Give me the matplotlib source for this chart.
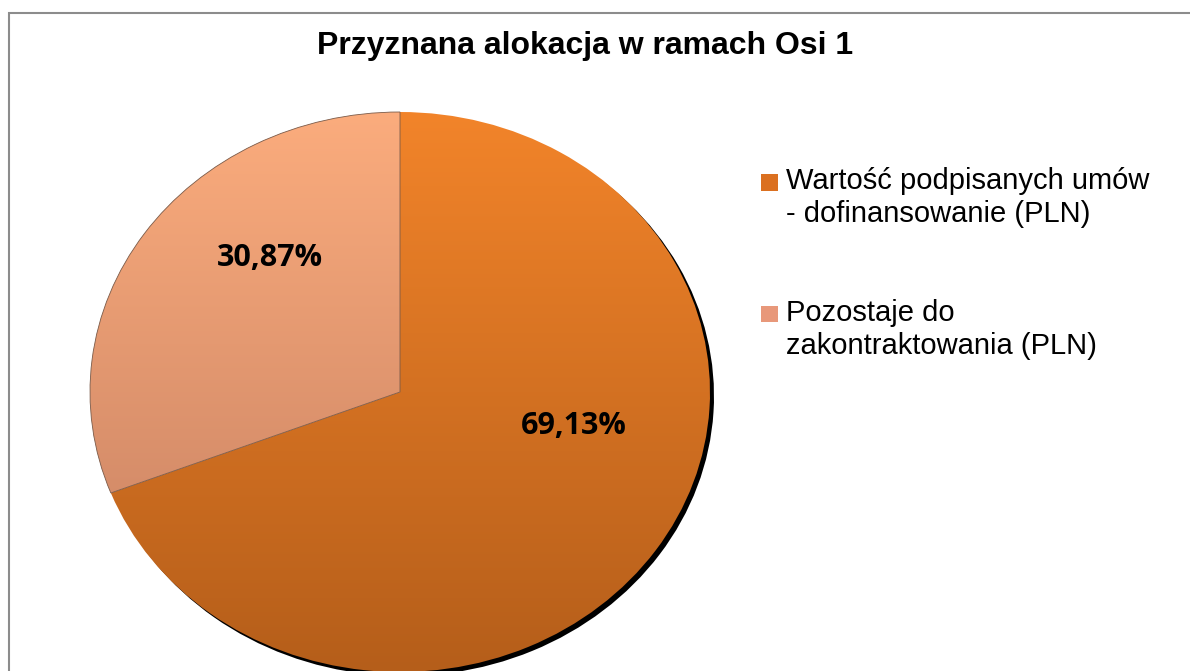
import numpy as np
import matplotlib
matplotlib.use("Agg")
import matplotlib.pyplot as plt
from matplotlib.colors import LinearSegmentedColormap
from matplotlib.patches import Rectangle
from matplotlib.legend_handler import HandlerPatch
import matplotlib.transforms as mtransforms

title = "Przyznana alokacja w ramach Osi 1"
labels = ["Wartość podpisanych umów\n- dofinansowanie (PLN)",
          "Pozostaje do\nzakontraktowania (PLN)"]
shares = [69.13, 30.87]
top_colors = ["#F2842A", "#FBAC7D"]
bottom_colors = ["#B55E1A", "#C47E60"]
label_pos = [(0.56, -0.12), (-0.42, 0.48)]


class TopSquare(HandlerPatch):
    # legend square aligned with the first line of a two-line label
    def create_artists(self, legend, orig_handle, xdescent, ydescent,
                       width, height, fontsize, trans):
        p = Rectangle((-xdescent, -ydescent + 0.55 * fontsize), width, height,
                      facecolor=orig_handle.get_facecolor(), linewidth=0)
        p.set_transform(trans)
        return [p]


W, H = 1190, 671
fig = plt.figure(figsize=(W / 100, H / 100), dpi=100)
fig.patch.set_facecolor("white")

# outer chart frame (cut off at right and bottom)
fig.add_artist(Rectangle((9 / W, -0.05), 1.2, (H - 13) / H + 0.05, transform=fig.transFigure,
                         fill=False, edgecolor="#8c8c8c", linewidth=1.5))

fig.text(585 / W, 1 - 46 / H, title, ha="center", va="center", fontsize=23,
         fontweight="bold", family="Liberation Sans")

# pie axes: centre (400, 392) px, radius 310 px horizontally, 280 px vertically
sx, sy, lim = 310, 280, 1.1
ax = fig.add_axes([(400 - lim * sx) / W, (H - 392 - lim * sy) / H,
                   2 * lim * sx / W, 2 * lim * sy / H])
wedges, _ = ax.pie(shares, startangle=90, counterclock=False, radius=1,
                   wedgeprops=dict(linewidth=0))
ax.axis("off")

# drop shadow for the large slice
offset = mtransforms.offset_copy(ax.transData, fig=fig, x=4, y=-4, units="dots")
sh = ax.pie([shares[0], shares[1]], startangle=90, counterclock=False, radius=1,
            colors=["black", "none"], wedgeprops=dict(linewidth=0))[0]
for w in sh:
    w.set_transform(offset)
    w.set_zorder(0)

grad = np.linspace(0, 1, 256).reshape(-1, 1)
for w, c0, c1 in zip(wedges, top_colors, bottom_colors):
    w.set_facecolor("none")
    w.set_zorder(2)
    cmap = LinearSegmentedColormap.from_list("g", [c0, c1])
    im = ax.imshow(grad, cmap=cmap, extent=[-1, 1, -1, 1], aspect="auto",
                   origin="upper", zorder=1)
    im.set_clip_path(w)
ax.set_aspect("auto")
ax.set_xlim(-lim, lim)
ax.set_ylim(-lim, lim)
wedges[1].set_edgecolor("#7a5a48")
wedges[1].set_linewidth(0.6)

for (x, y), v in zip(label_pos, shares):
    ax.text(x, y, f"{v:.2f}%".replace(".", ","), ha="center", va="center",
            fontsize=22, fontweight="bold", family="Open Sans", zorder=5)

handles = [Rectangle((0, 0), 1, 1, facecolor=c) for c in ["#DB7020", "#E8987A"]]
leg = fig.legend(handles, labels, loc="upper left", bbox_to_anchor=(741 / W, 1 - 147 / H),
                 frameon=False, prop=dict(family="Liberation Sans", size=21),
                 handlelength=0.57, handleheight=0.51, handletextpad=0.28,
                 labelspacing=2.45, alignment="left", borderpad=0.2,
                 handler_map={Rectangle: TopSquare()})

fig.savefig("out.png", dpi=100)
